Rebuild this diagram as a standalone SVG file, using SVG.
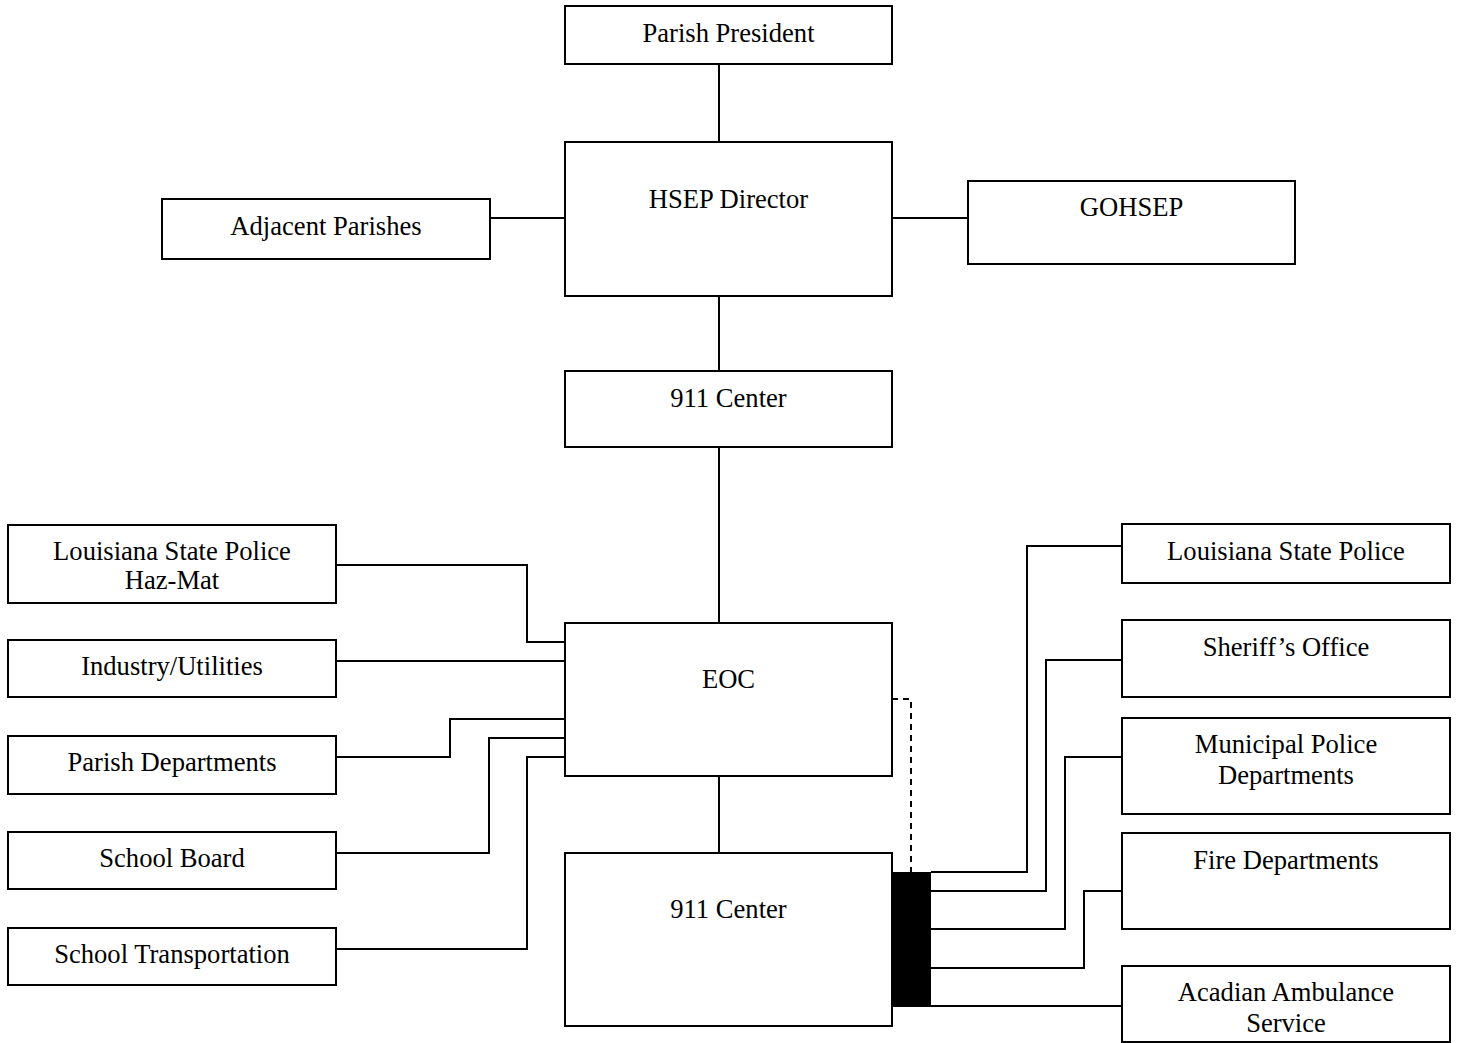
<svg xmlns="http://www.w3.org/2000/svg" width="1461" height="1043" viewBox="0 0 1461 1043">
<style>
.box{fill:#fff;stroke:#000;stroke-width:2}
.t{font-family:"Liberation Serif","Times New Roman",serif;font-size:26.6px;fill:#000;text-anchor:middle}
.c{fill:none;stroke:#000;stroke-width:2}
.d{fill:none;stroke:#000;stroke-width:2;stroke-dasharray:6,5}
</style>
<rect width="1461" height="1043" fill="#fff"/>
<g id="connectors">
<path class="c" d="M719 64V142M719 296V371M719 447V623M719 776V853"/>
<path class="c" d="M490 218H565M892 218H968"/>
<path class="c" d="M336 565H527V642H565"/>
<path class="c" d="M336 661H565"/>
<path class="c" d="M336 757H450V719H565"/>
<path class="c" d="M336 853H489V738H565"/>
<path class="c" d="M336 949H527V757H565"/>
<path class="d" d="M892 699H911V872"/>
<path class="c" d="M931 872H1027V546H1122"/>
<path class="c" d="M931 891H1046V660H1122"/>
<path class="c" d="M931 929H1065V757H1122"/>
<path class="c" d="M931 968H1084V891H1122"/>
<path class="c" d="M931 1006H1122"/>
</g>
<g id="parish-president"><rect class="box" x="565" y="6" width="327" height="58"/><text class="t" x="728.5" y="42">Parish President</text></g>
<g id="hsep-director"><rect class="box" x="565" y="142" width="327" height="154"/><text class="t" x="728.5" y="208">HSEP Director</text></g>
<g id="adjacent-parishes"><rect class="box" x="162" y="199" width="328" height="60"/><text class="t" x="326" y="235">Adjacent Parishes</text></g>
<g id="gohsep"><rect class="box" x="968" y="181" width="327" height="83"/><text class="t" x="1131.5" y="216">GOHSEP</text></g>
<g id="center-911-top"><rect class="box" x="565" y="371" width="327" height="76"/><text class="t" x="728.5" y="407">911 Center</text></g>
<g id="eoc"><rect class="box" x="565" y="623" width="327" height="153"/><text class="t" x="728.5" y="688">EOC</text></g>
<g id="center-911-bottom"><rect class="box" x="565" y="853" width="327" height="173"/><text class="t" x="728.5" y="918">911 Center</text></g>
<g id="black-bar"><rect x="892" y="872" width="39" height="135" fill="#000"/></g>
<g id="lsp-hazmat"><rect class="box" x="8" y="525" width="328" height="78"/><text class="t" x="172" y="560">Louisiana State Police</text><text class="t" x="172" y="589">Haz-Mat</text></g>
<g id="industry-utilities"><rect class="box" x="8" y="640" width="328" height="57"/><text class="t" x="172" y="675">Industry/Utilities</text></g>
<g id="parish-departments"><rect class="box" x="8" y="736" width="328" height="58"/><text class="t" x="172" y="771">Parish Departments</text></g>
<g id="school-board"><rect class="box" x="8" y="832" width="328" height="57"/><text class="t" x="172" y="867">School Board</text></g>
<g id="school-transportation"><rect class="box" x="8" y="928" width="328" height="57"/><text class="t" x="172" y="963">School Transportation</text></g>
<g id="lsp"><rect class="box" x="1122" y="524" width="328" height="59"/><text class="t" x="1286" y="560">Louisiana State Police</text></g>
<g id="sheriffs-office"><rect class="box" x="1122" y="620" width="328" height="77"/><text class="t" x="1286" y="656">Sheriff’s Office</text></g>
<g id="municipal-police"><rect class="box" x="1122" y="718" width="328" height="96"/><text class="t" x="1286" y="753">Municipal Police</text><text class="t" x="1286" y="784">Departments</text></g>
<g id="fire-departments"><rect class="box" x="1122" y="833" width="328" height="96"/><text class="t" x="1286" y="869">Fire Departments</text></g>
<g id="acadian-ambulance"><rect class="box" x="1122" y="966" width="328" height="76"/><text class="t" x="1286" y="1001">Acadian Ambulance</text><text class="t" x="1286" y="1032">Service</text></g>
</svg>
